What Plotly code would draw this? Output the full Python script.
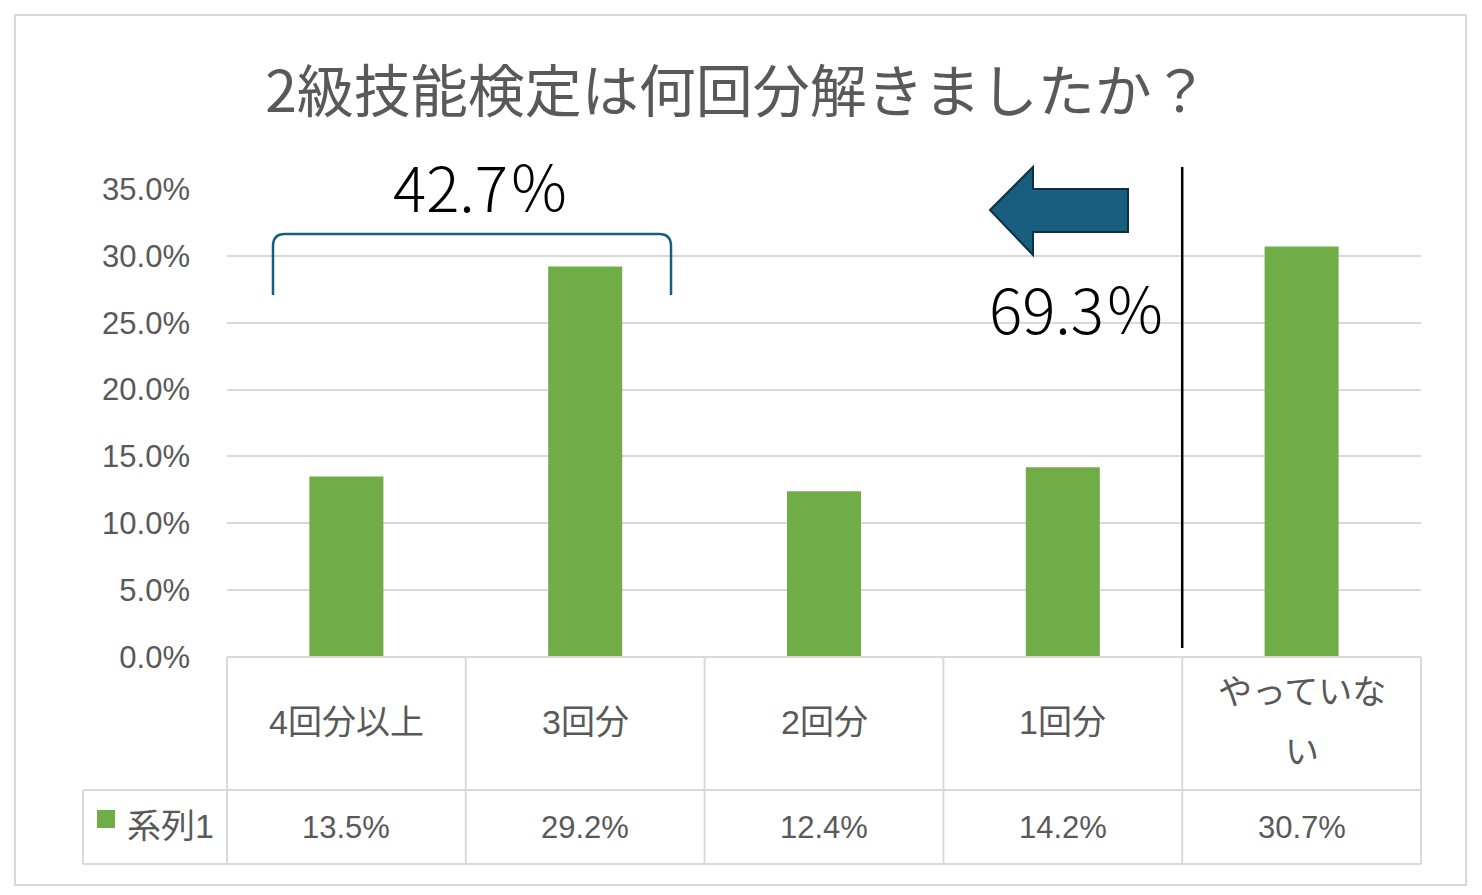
import plotly.graph_objects as go

# data
categories = ['4回分以上', '3回分', '2回分', '1回分', 'やっていない']
values = [0.135, 0.292, 0.124, 0.142, 0.307]
series_name = '系列1'
title = '2級技能検定は何回分解きましたか？'

green = '#70ad47'
grey_txt = '#595959'
grid = '#d9d9d9'
navy = '#175e7f'

OFF = 8                      # page margin of the browser
W, H = 1482 - OFF, 895 - OFF
L, R, T, B = 227, 1421, 189, 657   # plot area in window pixels


def px(x):
    return (x - L) / (R - L)


def py(y):
    return (B - y) / (B - T)


def wrap(s, n=5):
    return [s[i:i + n] for i in range(0, len(s), n)]


fig = go.Figure()
fig.add_trace(go.Bar(x=categories, y=values, name=series_name,
                     marker=dict(color=green, line=dict(width=0)), width=0.31))

fig.update_layout(width=W, height=H, template='plotly_white',
                  plot_bgcolor='white', paper_bgcolor='white',
                  margin=dict(l=L - OFF, r=W + OFF - R, t=T - OFF, b=H + OFF - B),
                  showlegend=False,
                  title=dict(text=title, x=(737 - OFF) / W, xanchor='center', xref='container',
                             y=1 - (92 - OFF) / H, yanchor='middle', yref='container',
                             font=dict(family='Noto Sans CJK JP', size=57, color=grey_txt)))

fig.update_xaxes(showticklabels=False, showgrid=False, zeroline=False, showline=False,
                 range=[-0.5, 4.5])
fig.update_yaxes(range=[0, 0.35], dtick=0.05, tickformat='.1%',
                 gridcolor=grid, gridwidth=2, zeroline=False, showline=False,
                 ticklabelstandoff=36,
                 tickfont=dict(family='Liberation Sans, Arial', size=31, color=grey_txt))

shapes = []
ann = []
line = dict(color=grid, width=2)

# outer chart border
shapes.append(dict(type='rect', xref='paper', yref='paper',
                   x0=px(15), x1=px(1466), y0=py(885), y1=py(15), line=line))

# data table grid
shapes.append(dict(type='line', xref='paper', yref='paper', x0=0, x1=1, y0=py(B), y1=py(B), line=line))
for yy in (790, 864):
    shapes.append(dict(type='line', xref='paper', yref='paper', x0=px(83), x1=1,
                       y0=py(yy), y1=py(yy), line=line))
for i in range(len(categories) + 1):
    xx = i / len(categories)
    shapes.append(dict(type='line', xref='paper', yref='paper', x0=xx, x1=xx,
                       y0=py(864), y1=py(B), line=line))
shapes.append(dict(type='line', xref='paper', yref='paper', x0=px(83), x1=px(83),
                   y0=py(864), y1=py(790), line=line))

# table text
jp_font = dict(family='Liberation Sans, Noto Sans CJK JP', size=34, color=grey_txt)
num_font = dict(family='Liberation Sans, Arial', size=31, color=grey_txt)
for i, (c, v) in enumerate(zip(categories, values)):
    xc = (i + 0.5) / len(categories)
    lines = wrap(c)
    for k, part in enumerate(lines):
        yc = 722 + (k - (len(lines) - 1) / 2) * 60
        ann.append(dict(xref='paper', yref='paper', x=xc, y=py(yc), text=part,
                        showarrow=False, font=jp_font, xanchor='center', yanchor='middle'))
    ann.append(dict(xref='paper', yref='paper', x=xc, y=py(827), text=f'{v * 100:.1f}%',
                    showarrow=False, font=num_font, xanchor='center', yanchor='middle'))

# legend key in table
shapes.append(dict(type='rect', xref='paper', yref='paper', x0=px(97), x1=px(115),
                   y0=py(828), y1=py(810), fillcolor=green, line=dict(width=0)))
ann.append(dict(xref='paper', yref='paper', x=px(125), y=py(826), text=series_name,
                showarrow=False, font=jp_font, xanchor='left', yanchor='middle'))

# bracket over first two categories
bx0, bx1, btop, bend, r = px(273), px(671), py(234), py(295), 12
bracket = (f'M {bx0},{bend} L {bx0},{py(234 + r)} Q {bx0},{btop} {px(273 + r)},{btop} '
           f'L {px(671 - r)},{btop} Q {bx1},{btop} {bx1},{py(234 + r)} L {bx1},{bend}')
shapes.append(dict(type='path', xref='paper', yref='paper', path=bracket,
                   line=dict(color=navy, width=2.5)))
big_font = dict(family='Noto Sans CJK JP', size=62, color='black', weight=300)
ann.append(dict(xref='paper', yref='paper', x=px(481), y=py(185),
                text=f'{(values[0] + values[1]) * 100:.1f}％',
                showarrow=False, font=big_font, xanchor='center', yanchor='middle'))

# divider between answered / not answered, and arrow
shapes.append(dict(type='line', xref='paper', yref='paper', x0=0.8, x1=0.8,
                   y0=py(648), y1=py(167), line=dict(color='black', width=2.5)))
arrow = (f'M {px(990)},{py(210)} L {px(1033)},{py(167)} L {px(1033)},{py(189)} '
         f'L {px(1128)},{py(189)} L {px(1128)},{py(232)} L {px(1033)},{py(232)} '
         f'L {px(1033)},{py(255)} Z')
shapes.append(dict(type='path', xref='paper', yref='paper', path=arrow,
                   fillcolor=navy, line=dict(color='#0d3045', width=2)))
ann.append(dict(xref='paper', yref='paper', x=px(1077), y=py(307),
                text=f'{sum(values[:4]) * 100:.1f}％',
                showarrow=False, font=big_font, xanchor='center', yanchor='middle'))

fig.update_layout(shapes=shapes, annotations=ann)
fig.write_html('out.html')
